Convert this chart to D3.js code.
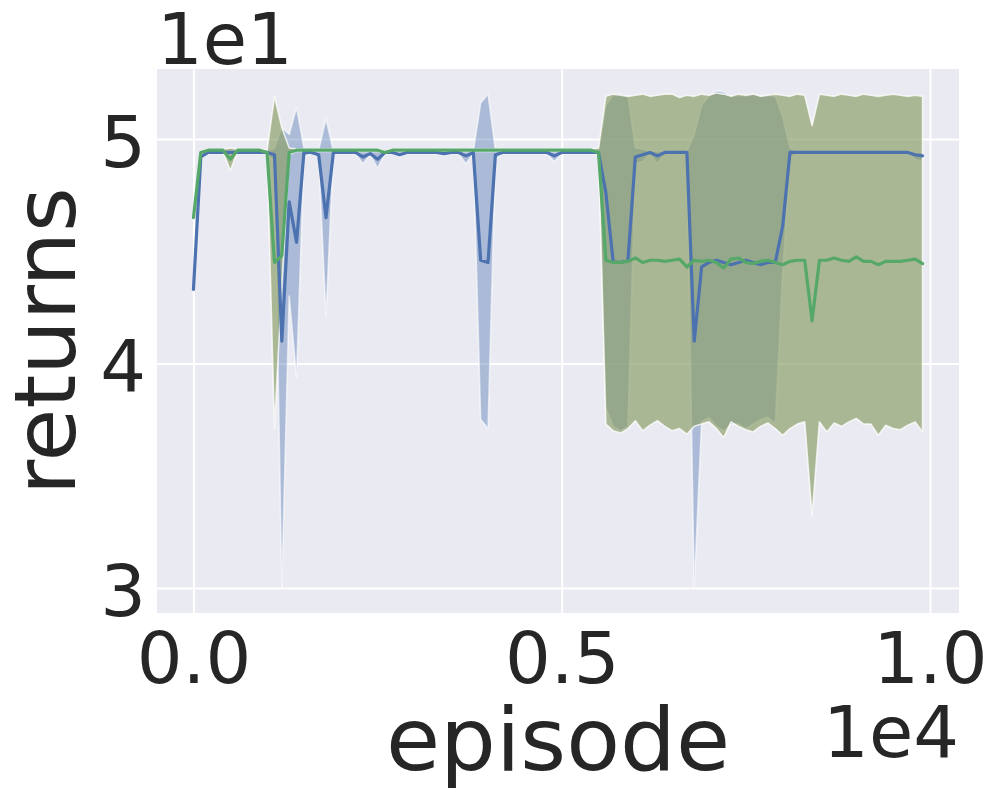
<!DOCTYPE html>
<html>
<head>
<meta charset="utf-8">
<script src="https://cdn.jsdelivr.net/npm/d3@7"></script>
<style>
  body { margin: 0; background: #fff; }
  svg { display: block; }
  text { font-family: "DejaVu Sans", sans-serif; fill: #262626; }
</style>
</head>
<body>
<svg id="chart" width="996" height="794"></svg>
<script>
// episodes (every 100)
const episodes = [
  0, 100, 200, 300, 400, 500, 600, 700, 800, 900,
  1000, 1100, 1200, 1300, 1400, 1500, 1600, 1700, 1800, 1900,
  2000, 2100, 2200, 2300, 2400, 2500, 2600, 2700, 2800, 2900,
  3000, 3100, 3200, 3300, 3400, 3500, 3600, 3700, 3800, 3900,
  4000, 4100, 4200, 4300, 4400, 4500, 4600, 4700, 4800, 4900,
  5000, 5100, 5200, 5300, 5400, 5500, 5600, 5700, 5800, 5900,
  6000, 6100, 6200, 6300, 6400, 6500, 6600, 6700, 6800, 6900,
  7000, 7100, 7200, 7300, 7400, 7500, 7600, 7700, 7800, 7900,
  8000, 8100, 8200, 8300, 8400, 8500, 8600, 8700, 8800, 8900,
  9000, 9100, 9200, 9300, 9400, 9500, 9600, 9700, 9800, 9900
]

// blue run: mean, lower and upper band
const blueMean = [
  43.3, 49.2, 49.4, 49.4, 49.4, 49.4, 49.4, 49.4, 49.4, 49.4,
  49.4, 49.3, 41.0, 47.2, 45.4, 49.4, 49.4, 49.3, 46.5, 49.4,
  49.4, 49.4, 49.4, 49.2, 49.35, 49.1, 49.4, 49.4, 49.3, 49.4,
  49.4, 49.4, 49.4, 49.4, 49.35, 49.4, 49.4, 49.25, 49.4, 44.6,
  44.5, 49.3, 49.4, 49.4, 49.4, 49.4, 49.4, 49.4, 49.4, 49.25,
  49.4, 49.4, 49.4, 49.4, 49.4, 49.4, 47.6, 44.5, 44.5, 44.6,
  49.2, 49.3, 49.4, 49.25, 49.4, 49.4, 49.4, 49.4, 41.0, 44.3,
  44.5, 44.6, 44.5, 44.4, 44.5, 44.6, 44.5, 44.4, 44.5, 44.5,
  46.1, 49.4, 49.4, 49.4, 49.4, 49.4, 49.4, 49.4, 49.4, 49.4,
  49.4, 49.4, 49.4, 49.4, 49.4, 49.4, 49.4, 49.4, 49.3, 49.25
]
const blueLow = [
  43.1, 49.1, 49.35, 49.35, 49.35, 49.35, 49.35, 49.35, 49.35, 49.35,
  49.35, 49.0, 30.0, 43.0, 39.4, 49.2, 49.35, 49.2, 42.1, 49.35,
  49.35, 49.35, 49.35, 48.9, 49.3, 48.7, 49.35, 49.35, 49.2, 49.35,
  49.35, 49.35, 49.35, 49.35, 49.25, 49.35, 49.35, 48.9, 49.35, 37.5,
  37.1, 49.1, 49.35, 49.35, 49.35, 49.35, 49.35, 49.35, 49.35, 49.0,
  49.35, 49.35, 49.35, 49.35, 49.35, 49.35, 38.0, 37.2, 37.0, 37.2,
  48.9, 49.0, 49.35, 48.9, 49.35, 49.35, 49.35, 49.35, 30.0, 37.4,
  37.6, 37.2, 37.0, 37.3, 37.3, 37.1, 37.3, 37.5, 37.6, 37.3,
  44.0, 49.2, 49.35, 49.35, 49.35, 49.35, 49.35, 49.35, 49.35, 49.35,
  49.35, 49.35, 49.35, 49.35, 49.35, 49.35, 49.35, 49.35, 49.1, 49.0
]
const blueHigh = [
  43.5, 49.3, 49.45, 49.45, 49.45, 49.45, 49.45, 49.45, 49.45, 49.45,
  49.45, 49.6, 50.5, 50.2, 51.4, 49.6, 49.45, 49.5, 50.9, 49.45,
  49.45, 49.45, 49.45, 49.45, 49.45, 49.45, 49.45, 49.45, 49.45, 49.45,
  49.45, 49.45, 49.45, 49.45, 49.45, 49.45, 49.45, 49.45, 49.45, 51.6,
  52.0, 49.5, 49.45, 49.45, 49.45, 49.45, 49.45, 49.45, 49.45, 49.45,
  49.45, 49.45, 49.45, 49.45, 49.45, 49.45, 51.5, 51.95, 52.0, 51.9,
  49.6, 49.55, 49.45, 49.45, 49.45, 49.45, 49.45, 49.45, 50.2, 51.5,
  51.9, 52.15, 52.1, 51.9, 51.95, 51.9, 52.0, 51.9, 51.95, 51.9,
  51.0, 49.6, 49.45, 49.45, 49.45, 49.45, 49.45, 49.45, 49.45, 49.45,
  49.45, 49.45, 49.45, 49.45, 49.45, 49.45, 49.45, 49.45, 49.4, 49.4
]

// green run: mean, lower and upper band
const greenMean = [
  46.5, 49.4, 49.5, 49.5, 49.5, 49.1, 49.5, 49.5, 49.5, 49.5,
  49.4, 44.5, 44.8, 49.4, 49.5, 49.5, 49.5, 49.5, 49.5, 49.5,
  49.5, 49.5, 49.5, 49.5, 49.5, 49.5, 49.4, 49.5, 49.5, 49.5,
  49.5, 49.5, 49.5, 49.5, 49.5, 49.5, 49.5, 49.5, 49.5, 49.5,
  49.5, 49.5, 49.5, 49.5, 49.5, 49.5, 49.5, 49.5, 49.5, 49.5,
  49.5, 49.5, 49.5, 49.5, 49.5, 49.4, 44.6, 44.5, 44.5, 44.55,
  44.7, 44.5, 44.6, 44.6, 44.55, 44.6, 44.65, 44.3, 44.6, 44.55,
  44.6, 44.5, 44.25, 44.65, 44.7, 44.5, 44.45, 44.55, 44.6, 44.5,
  44.4, 44.55, 44.6, 44.6, 41.9, 44.6, 44.6, 44.7, 44.6, 44.55,
  44.75, 44.55, 44.55, 44.4, 44.55, 44.55, 44.55, 44.6, 44.65, 44.45
]
const greenLow = [
  46.4, 49.35, 49.45, 49.45, 49.45, 48.6, 49.45, 49.45, 49.45, 49.45,
  49.35, 37.1, 43.5, 49.3, 49.45, 49.45, 49.45, 49.45, 49.45, 49.45,
  49.45, 49.45, 49.45, 49.45, 49.45, 49.45, 49.35, 49.45, 49.45, 49.45,
  49.45, 49.45, 49.45, 49.45, 49.45, 49.45, 49.45, 49.45, 49.45, 49.45,
  49.45, 49.45, 49.45, 49.45, 49.45, 49.45, 49.45, 49.45, 49.45, 49.45,
  49.45, 49.45, 49.45, 49.45, 49.45, 49.3, 37.3, 37.0, 36.9, 37.1,
  37.45, 37.0, 37.25, 37.45, 37.2, 37.0, 37.1, 36.85, 37.2, 37.3,
  37.4, 37.1, 36.7, 37.4, 37.2, 37.05, 36.95, 37.2, 37.35, 37.1,
  36.8, 37.1, 37.3, 37.4, 33.2, 37.4, 36.95, 37.35, 37.2, 37.4,
  37.55, 37.3, 37.3, 36.8, 37.25, 37.1, 37.05, 37.25, 37.4, 36.95
]
const greenHigh = [
  46.6, 49.45, 49.55, 49.55, 49.55, 49.6, 49.55, 49.55, 49.55, 49.55,
  49.5, 51.9, 50.5, 49.6, 49.55, 49.55, 49.55, 49.55, 49.55, 49.55,
  49.55, 49.55, 49.55, 49.55, 49.55, 49.55, 49.45, 49.55, 49.55, 49.55,
  49.55, 49.55, 49.55, 49.55, 49.55, 49.55, 49.55, 49.55, 49.55, 49.55,
  49.55, 49.55, 49.55, 49.55, 49.55, 49.55, 49.55, 49.55, 49.55, 49.55,
  49.55, 49.55, 49.55, 49.55, 49.55, 49.6, 51.9, 52.0, 51.95, 51.9,
  51.95, 52.0, 51.9, 51.95, 52.0, 52.0, 51.85, 51.95, 51.9, 52.0,
  51.95, 52.05, 52.0, 51.9, 52.0, 51.95, 52.0, 51.9, 51.95, 52.0,
  51.95, 51.9, 52.0, 51.95, 50.6, 52.0, 51.95, 51.9, 52.0, 51.95,
  51.9, 52.0, 51.95, 51.9, 51.95, 52.0, 51.95, 51.9, 51.95, 51.9
]

// ticks (values shown with matplotlib-style offsets)
const xTicks = [0, 5000, 10000]
const xTickLabels = ['0.0', '0.5', '1.0']
const yTicks = [30, 40, 50]
const yTickLabels = ['3', '4', '5']

const plot = { left: 157, right: 959, top: 69, bottom: 613 }

const svg = d3.select('#chart')

const xScale = d3.scaleLinear()
  .domain([-495, 10395])
  .range([plot.left, plot.right])

const yScale = d3.scaleLinear()
  .domain([28.886, 53.118])
  .range([plot.bottom, plot.top])

svg.append('rect')
  .attr('width', 996).attr('height', 794)
  .attr('fill', '#ffffff')

svg.append('rect')
  .attr('x', plot.left).attr('y', plot.top)
  .attr('width', plot.right - plot.left)
  .attr('height', plot.bottom - plot.top)
  .attr('fill', '#EAEAF2')

const xAxis = d3.axisBottom(xScale)
  .tickValues(xTicks)
  .tickSize(-(plot.bottom - plot.top))
  .tickFormat((d, i) => xTickLabels[i])

const yAxis = d3.axisLeft(yScale)
  .tickValues(yTicks)
  .tickSize(-(plot.right - plot.left))
  .tickFormat((d, i) => yTickLabels[i])

function customXAxis (g) {
  g.call(xAxis)
  g.select('.domain').remove()
  g.selectAll('.tick line')
    .style('stroke', '#ffffff')
    .style('stroke-width', 2)
  g.selectAll('.tick text')
    .attr('y', 70)
    .attr('dy', 0)
    .style('font-size', '72px')
    .style('font-family', '"DejaVu Sans", sans-serif')
    .style('fill', '#262626')
}

function customYAxis (g) {
  g.call(yAxis)
  g.select('.domain').remove()
  g.selectAll('.tick line')
    .style('stroke', '#ffffff')
    .style('stroke-width', 2)
  g.selectAll('.tick text')
    .attr('x', -11)
    .attr('dy', '0.38em')
    .style('font-size', '72px')
    .style('font-family', '"DejaVu Sans", sans-serif')
    .style('fill', '#262626')
}

svg.append('g')
  .attr('transform', `translate(0, ${plot.bottom})`)
  .call(customXAxis)

svg.append('g')
  .attr('transform', `translate(${plot.left}, 0)`)
  .call(customYAxis)

const idx = d3.range(episodes.length)

const bandGenerator = (lo, hi) => d3.area()
  .x(i => xScale(episodes[i]))
  .y0(i => yScale(lo[i]))
  .y1(i => yScale(hi[i]))

const lineGenerator = (vals) => d3.line()
  .x(i => xScale(episodes[i]))
  .y(i => yScale(vals[i]))

svg.append('path')
  .attr('d', bandGenerator(blueLow, blueHigh)(idx))
  .attr('fill', '#4C72B0')
  .attr('fill-opacity', 0.4)
  .attr('stroke', '#ffffff')
  .attr('stroke-opacity', 0.6)
  .attr('stroke-width', 1.6)
  .attr('stroke-linejoin', 'round')

svg.append('path')
  .attr('d', bandGenerator(greenLow, greenHigh)(idx))
  .attr('fill', '#8C9F69')
  .attr('fill-opacity', 0.68)
  .attr('stroke', '#ffffff')
  .attr('stroke-opacity', 0.75)
  .attr('stroke-width', 1.6)
  .attr('stroke-linejoin', 'round')

svg.append('path')
  .attr('d', lineGenerator(blueMean)(idx))
  .attr('fill', 'none')
  .attr('stroke', '#4C72B0')
  .attr('stroke-width', 3.2)
  .attr('stroke-linejoin', 'round')
  .attr('stroke-linecap', 'round')

svg.append('path')
  .attr('d', lineGenerator(greenMean)(idx))
  .attr('fill', 'none')
  .attr('stroke', '#55A868')
  .attr('stroke-width', 3.2)
  .attr('stroke-linejoin', 'round')
  .attr('stroke-linecap', 'round')

// offset texts and axis labels
svg.append('text')
  .attr('x', plot.left)
  .attr('y', 64)
  .style('font-size', '72px')
  .text('1e1')

svg.append('text')
  .attr('x', plot.right)
  .attr('y', 757)
  .attr('text-anchor', 'end')
  .style('font-size', '72px')
  .text('1e4')

svg.append('text')
  .attr('x', (plot.left + plot.right) / 2)
  .attr('y', 770)
  .attr('text-anchor', 'middle')
  .style('font-size', '88px')
  .text('episode')

svg.append('text')
  .attr('transform', `translate(75, ${(plot.top + plot.bottom) / 2}) rotate(-90)`)
  .attr('text-anchor', 'middle')
  .style('font-size', '86px')
  .text('returns')
</script>
</body>
</html>
